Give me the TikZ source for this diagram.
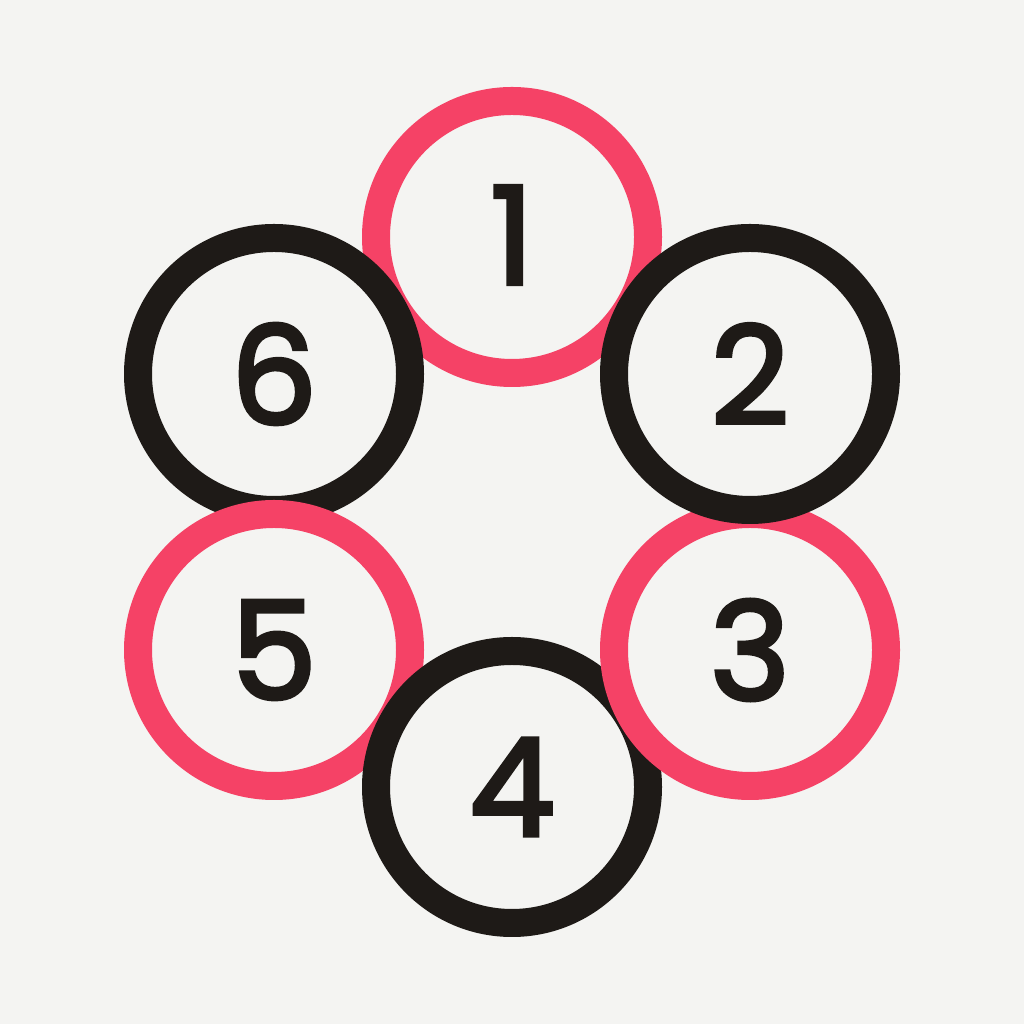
\documentclass[tikz,border=0pt]{standalone}
\usepackage{fontspec}
\newfontfamily\numfont{Poppins}[FakeBold=3]
\definecolor{bgc}{HTML}{F4F4F2}
\definecolor{redc}{HTML}{F54266}
\definecolor{blkc}{HTML}{1E1A17}
\begin{document}
\begin{tikzpicture}[x=1pt,y=1pt,
  ring/.style={circle,minimum size=272pt,inner sep=0pt,line width=28pt,text=blkc,
    font=\numfont\fontsize{136}{136}\selectfont},
  redring/.style={ring,draw=redc},
  blkring/.style={ring,draw=blkc}]
\fill[bgc] (0,0) rectangle (1024,1024);
\useasboundingbox (0,0) rectangle (1024,1024);
\node[redring] (n1) at (512,787) {\raisebox{4pt}{1}};
\node[blkring] (n6) at (274,650) {6};
\node[redring] (n5) at (274,374) {5};
\node[blkring] (n4) at (512,237) {4};
\node[redring] (n3) at (750,374) {3};
\node[blkring] (n2) at (750,650) {2};
\end{tikzpicture}
\end{document}
